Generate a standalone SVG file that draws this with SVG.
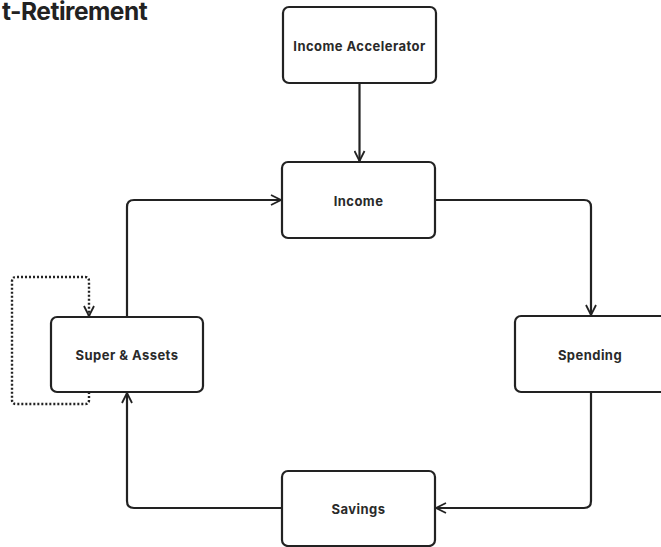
<svg xmlns="http://www.w3.org/2000/svg" width="661" height="547" viewBox="0 0 661 547">
  <defs>
    <style>
      .box { fill: #ffffff; stroke: #222222; stroke-width: 2.2; }
      .label { font-family: Inter, "Liberation Sans", sans-serif; font-weight: 700; font-size: 13px; fill: #2a2a2a; text-anchor: middle; dominant-baseline: central; letter-spacing: 0.45px; }
      .title { font-family: Inter, "Liberation Sans", sans-serif; font-weight: 700; font-size: 24.5px; fill: #222222; letter-spacing: -0.5px; }
      .edge { fill: none; stroke: #222222; stroke-width: 2.2; stroke-linejoin: round; }
      .dotted { stroke-width: 2.4; stroke-dasharray: 2 2; }
    </style>
    <marker id="arrow" viewBox="0 0 12 12" refX="11" refY="6" markerWidth="12" markerHeight="12" markerUnits="userSpaceOnUse" orient="auto">
      <path d="M1,1 L11,6 L1,11" fill="none" stroke="#222222" stroke-width="1.8"/>
    </marker>
  </defs>

  <rect width="661" height="547" fill="#ffffff"/>

  <text class="title" x="2" y="20">t-Retirement</text>

  <g id="connectors">
    <path class="edge" d="M359.5,83 V161" marker-end="url(#arrow)"/>
    <path class="edge" d="M435,200 H584 Q591,200 591,207 V315" marker-end="url(#arrow)"/>
    <path class="edge" d="M591,392 V501 Q591,508 584,508 H436" marker-end="url(#arrow)"/>
    <path class="edge" d="M282,508 H134 Q127,508 127,501 V393" marker-end="url(#arrow)"/>
    <path class="edge" d="M127,317 V207 Q127,200 134,200 H281" marker-end="url(#arrow)"/>
    <path class="edge dotted" d="M89,392 V400 Q89,404 85,404 H16 Q12,404 12,400 V281 Q12,277 16,277 H85 Q89,277 89,281 V316" marker-end="url(#arrow)"/>
  </g>

  <g id="income-accelerator">
    <rect class="box" x="283" y="7" width="153" height="76" rx="6"/>
    <text class="label" x="359.5" y="46">Income Accelerator</text>
  </g>
  <g id="income">
    <rect class="box" x="282" y="162" width="153" height="76" rx="6"/>
    <text class="label" x="358.5" y="200.5">Income</text>
  </g>
  <g id="super-assets">
    <rect class="box" x="51" y="317" width="152" height="75" rx="6"/>
    <text class="label" x="127" y="355">Super &amp; Assets</text>
  </g>
  <g id="spending">
    <rect class="box" x="515" y="316" width="153" height="76" rx="6"/>
    <text class="label" x="590" y="354.5">Spending</text>
  </g>
  <g id="savings">
    <rect class="box" x="282" y="471" width="153" height="75" rx="6"/>
    <text class="label" x="358.5" y="509">Savings</text>
  </g>
</svg>
